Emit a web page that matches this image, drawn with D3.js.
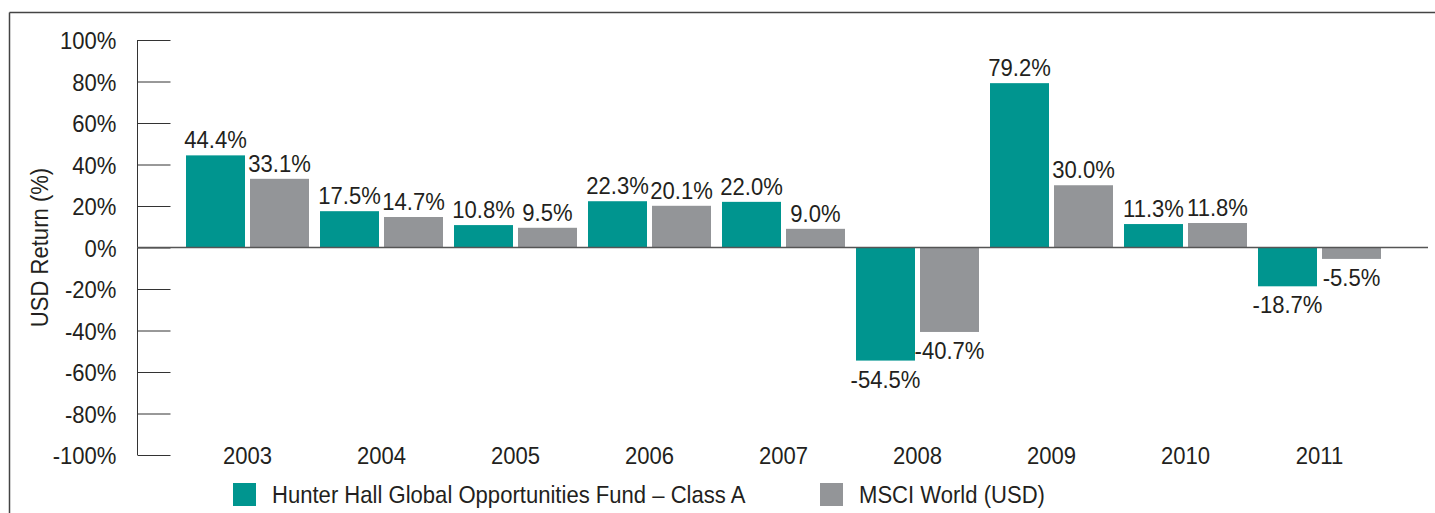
<!DOCTYPE html>
<html>
<head>
<meta charset="utf-8">
<script src="https://cdn.jsdelivr.net/npm/d3@7/dist/d3.min.js"></script>
<style>
  body { margin: 0; background: #fff; }
  text { font-family: "Liberation Sans", Arial, sans-serif; fill: #231f20; font-size: 24px; }
</style>
</head>
<body>
<svg id="chart" width="1435" height="513"></svg>
<script>
const years = ['2003', '2004', '2005', '2006', '2007', '2008', '2009', '2010', '2011'];
const fundValues = [44.4, 17.5, 10.8, 22.3, 22.0, -54.5, 79.2, 11.3, -18.7];
const msciValues = [33.1, 14.7, 9.5, 20.1, 9.0, -40.7, 30.0, 11.8, -5.5];
const seriesNames = ['Hunter Hall Global Opportunities Fund \u2013 Class A', 'MSCI World (USD)'];
const seriesColors = ['#00958f', '#939598'];
const yTicks = [-100, -80, -60, -40, -20, 0, 20, 40, 60, 80, 100];

const svg = d3.select('#chart');
const K = 0.92; // horizontal squeeze to mimic the condensed face

// turn x/y of a text into a translate + horizontal scale
function squeeze(sel) {
  sel.each(function () {
    const t = d3.select(this);
    const tx = +t.attr('x') || 0, ty = +t.attr('y') || 0;
    const pre = t.attr('transform') || '';
    t.attr('x', 0).attr('y', 0).attr('transform', `${pre} translate(${tx},${ty}) scale(${K},1)`);
  });
}

// frame (top + left)
svg.append('line').attr('x1', 9.5).attr('x2', 1435).attr('y1', 12.5).attr('y2', 12.5)
  .attr('stroke', '#444').attr('stroke-width', 1.5);
svg.append('line').attr('x1', 9.5).attr('x2', 9.5).attr('y1', 12.5).attr('y2', 513)
  .attr('stroke', '#444').attr('stroke-width', 1.5);

const y = d3.scaleLinear().domain([-100, 100]).range([455, 40]);
const x0 = d3.scaleBand().domain(years).range([180.5, 1386.5])
  .paddingInner(11 / 134).paddingOuter(5.5 / 134);
const x1 = d3.scaleBand().domain([0, 1]).range([0, x0.bandwidth()]).paddingInner(2 - x0.bandwidth() / 64);

const data = years.map((yr, i) => ({ year: yr, values: [fundValues[i], msciValues[i]] }));

// y axis
const yAxis = svg.append('g').attr('transform', 'translate(137.5,0)')
  .call(d3.axisRight(y).tickValues(yTicks).tickSize(33).tickFormat(d => d + '%'));
yAxis.select('.domain').attr('stroke', '#333').attr('d', `M0,${y(100)}V${y(-100)}`);
yAxis.selectAll('.tick line').attr('stroke', '#333');
yAxis.selectAll('.tick text')
  .attr('x', -21).attr('text-anchor', 'end').attr('dy', '0.36em')
  .style('font-size', '24px').style('font-family', null)
  .call(squeeze);

// y title
svg.append('text')
  .attr('transform', `translate(48,${y(0)}) rotate(-90) scale(${K},1)`)
  .attr('text-anchor', 'middle')
  .text('USD Return (%)');

// bars
const groups = svg.selectAll('.group').data(data).enter().append('g')
  .attr('class', 'group')
  .attr('transform', d => `translate(${x0(d.year)},0)`);

groups.selectAll('rect').data(d => d.values).enter().append('rect')
  .attr('x', (d, i) => x1(i))
  .attr('y', d => y(Math.max(0, d)))
  .attr('width', x1.bandwidth())
  .attr('height', d => Math.abs(y(d) - y(0)))
  .attr('fill', (d, i) => seriesColors[i]);

groups.selectAll('text.val').data(d => d.values).enter().append('text')
  .attr('class', 'val')
  .attr('x', (d, i) => x1(i) + x1.bandwidth() / 2)
  .attr('y', d => d >= 0 ? y(d) - 7 : y(d) + 27)
  .attr('text-anchor', 'middle')
  .text(d => d.toFixed(1) + '%')
  .call(squeeze);

// zero line
svg.append('line').attr('x1', 137).attr('x2', 1428).attr('y1', y(0)).attr('y2', y(0))
  .attr('stroke', '#555').attr('stroke-width', 1.5);

// x labels
svg.selectAll('.year').data(years).enter().append('text')
  .attr('class', 'year')
  .attr('x', d => x0(d) + x0.bandwidth() / 2)
  .attr('y', 464)
  .attr('text-anchor', 'middle')
  .text(d => d)
  .call(squeeze);

// legend
const legendX = [233, 820];
const legend = svg.selectAll('.legend').data(seriesNames).enter().append('g')
  .attr('class', 'legend')
  .attr('transform', (d, i) => `translate(${legendX[i]},483)`);
legend.append('rect').attr('width', 23).attr('height', 23).attr('fill', (d, i) => seriesColors[i]);
legend.append('text').attr('x', 39).attr('y', 20).text(d => d).call(squeeze);
</script>
</body>
</html>
